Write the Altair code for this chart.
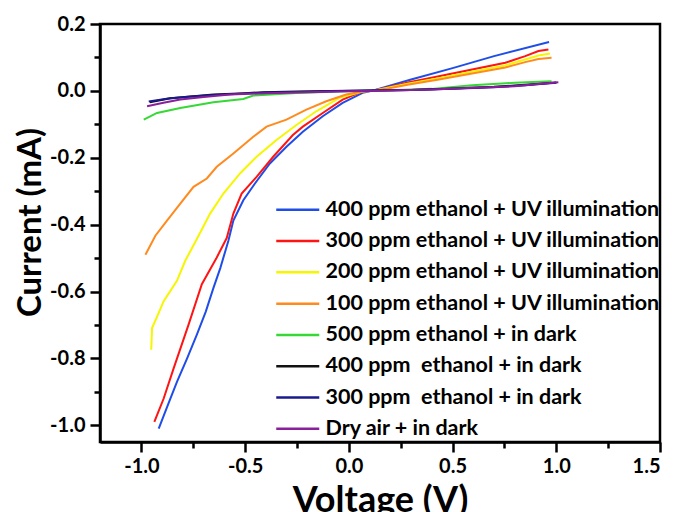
import altair as alt
import pandas as pd

NB = "\u00a0"  # keeps the extra spaces in the legend labels

series_names = [
    "400 ppm ethanol + UV illumination",
    "300 ppm ethanol + UV illumination",
    "200 ppm ethanol + UV illumination",
    "100 ppm ethanol + UV illumination",
    NB + "500 ppm ethanol + in dark",
    "400 ppm" + NB + " ethanol + in dark",
    "300 ppm" + NB + " ethanol + in dark",
    NB + "Dry air + in dark",
]
series_colors = [
    "#1f4de8", "#ff1414", "#f6f600", "#ff8a1e",
    "#35d835", "#111111", "#1a1a8f", "#8a1f9c",
]

# I-V sweeps: voltage (V) and current (mA)
v_uv400 = [-0.917, -0.873, -0.829, -0.78, -0.733, -0.69, -0.653, -0.62, -0.581, -0.557,
           -0.509, -0.453, -0.381, -0.301, -0.222, -0.126, -0.03, 0.066, 0.11, 0.3, 0.5,
           0.7, 0.965]
i_uv400 = [-1.010, -0.94, -0.870, -0.80, -0.729, -0.66, -0.589, -0.53, -0.448, -0.388,
           -0.327, -0.277, -0.217, -0.167, -0.122, -0.076, -0.036, -0.006, 0.0, 0.034,
           0.068, 0.104, 0.146]

v_uv300 = [-0.938, -0.893, -0.845, -0.773, -0.709, -0.637, -0.589, -0.557, -0.517, -0.445,
           -0.365, -0.270, -0.222, -0.126, -0.030, 0.066, 0.11, 0.194, 0.29, 0.434, 0.594,
           0.754, 0.85, 0.914, 0.962]
i_uv300 = [-0.990, -0.920, -0.830, -0.699, -0.578, -0.498, -0.44, -0.367, -0.307, -0.257,
           -0.197, -0.132, -0.107, -0.066, -0.026, -0.001, 0.0, 0.012, 0.026, 0.044, 0.064,
           0.084, 0.104, 0.119, 0.124]

v_uv200 = [-0.953, -0.949, -0.921, -0.893, -0.829, -0.789, -0.733, -0.669, -0.605, -0.525,
           -0.445, -0.349, -0.253, -0.157, -0.046, 0.066, 0.11, 0.194, 0.29, 0.434, 0.594,
           0.754, 0.85, 0.914, 0.97]
i_uv200 = [-0.774, -0.709, -0.670, -0.629, -0.568, -0.508, -0.443, -0.367, -0.307, -0.247,
           -0.197, -0.147, -0.102, -0.061, -0.021, -0.002, 0.0, 0.010, 0.022, 0.038, 0.057,
           0.076, 0.094, 0.106, 0.112]

v_uv100 = [-0.981, -0.933, -0.877, -0.813, -0.749, -0.685, -0.637, -0.557, -0.461, -0.397,
           -0.301, -0.205, -0.109, -0.013, 0.066, 0.11, 0.194, 0.29, 0.434, 0.594, 0.754,
           0.85, 0.914, 0.977]
i_uv100 = [-0.490, -0.433, -0.388, -0.337, -0.287, -0.262, -0.227, -0.187, -0.137, -0.107,
           -0.086, -0.056, -0.031, -0.011, -0.002, 0.0, 0.008, 0.019, 0.034, 0.052, 0.070,
           0.086, 0.095, 0.099]

v_dk500 = [-0.989, -0.925, -0.813, -0.653, -0.509, -0.461, -0.253, -0.013, 0.2, 0.4, 0.594,
           0.8, 0.977]
i_dk500 = [-0.086, -0.066, -0.051, -0.034, -0.024, -0.014, -0.006, -0.001, 0.002, 0.006,
           0.017, 0.024, 0.029]

v_dk400 = [-0.96, -0.861, -0.75, -0.653, -0.5, -0.413, -0.25, -0.094, 0.1, 0.3, 0.5, 0.7,
           0.85, 1.0]
i_dk400 = [-0.034, -0.022, -0.016, -0.011, -0.007, -0.004, -0.002, 0.0, 0.001, 0.003, 0.007,
           0.012, 0.018, 0.025]

v_dk300 = [-0.965, -0.87, -0.76, -0.65, -0.5, -0.4, -0.25, -0.1, 0.1, 0.3, 0.5, 0.7, 0.85,
           1.0]
i_dk300 = [-0.032, -0.023, -0.017, -0.012, -0.008, -0.005, -0.003, -0.001, 0.001, 0.003,
           0.006, 0.011, 0.017, 0.024]

v_dry = [-0.973, -0.9, -0.813, -0.7, -0.573, -0.4, -0.2, 0.0, 0.2, 0.4, 0.6, 0.8, 0.9, 1.01]
i_dry = [-0.046, -0.036, -0.026, -0.018, -0.011, -0.007, -0.004, -0.001, 0.001, 0.004,
         0.009, 0.014, 0.02, 0.026]

sweeps = [
    (v_uv400, i_uv400), (v_uv300, i_uv300), (v_uv200, i_uv200), (v_uv100, i_uv100),
    (v_dk500, i_dk500), (v_dk400, i_dk400), (v_dk300, i_dk300), (v_dry, i_dry),
]

rows = []
for name, (vs, cs) in zip(series_names, sweeps):
    for k, (v, c) in enumerate(zip(vs, cs)):
        rows.append({"series": name, "V": v, "I": c, "idx": k})
df = pd.DataFrame(rows)

x_ticks = [-1.0, -0.75, -0.5, -0.25, 0.0, 0.25, 0.5, 0.75, 1.0, 1.25, 1.5]
y_ticks = [-1.0, -0.9, -0.8, -0.7, -0.6, -0.5, -0.4, -0.3, -0.2, -0.1, 0.0, 0.1, 0.2]

FONT = "Lato"
x_minor = "round(datum.value*4) % 2 != 0"
y_minor = "round(datum.value*10) % 2 != 0"

x_axis = alt.Axis(
    values=x_ticks,
    labelExpr=f"{x_minor} ? '' : (datum.value < -0.001 ? '-' : '') + format(abs(datum.value), '.1f')",
    tickSize={"condition": {"test": x_minor, "value": 6}, "value": 10},
    labelPadding=4,
    title="Voltage (V)",
    titleFontSize=36,
    titleX=280,
    titleY=69,
    titleBaseline="alphabetic",
)
y_axis = alt.Axis(
    values=y_ticks,
    labelExpr=f"{y_minor} ? '' : (datum.value < -0.001 ? '-' : '') + format(abs(datum.value), '.1f')",
    tickSize={"condition": {"test": y_minor, "value": 6}, "value": 10},
    labelPadding=5,
    title="Current (mA)",
    titleFontSize=33,
    titleAngle=270,
    titleX=-70,
    titleY=198,
    titleAlign="center",
    titleBaseline="middle",
)

chart = (
    alt.Chart(df)
    .mark_line(strokeWidth=2, clip=True)
    .encode(
        x=alt.X("V:Q", scale=alt.Scale(domain=[-1.2, 1.5], nice=False, zero=False), axis=x_axis),
        y=alt.Y("I:Q", scale=alt.Scale(domain=[-1.05, 0.2], nice=False, zero=False), axis=y_axis),
        color=alt.Color(
            "series:N",
            scale=alt.Scale(domain=series_names, range=series_colors),
            legend=alt.Legend(
                title=None,
                orient="none",
                legendX=187,
                legendY=175,
                direction="vertical",
                symbolType="M-5,0H5",
                symbolSize=74,
                symbolStrokeWidth=2.5,
                labelFont=FONT,
                labelFontSize=21.5,
                labelFontWeight="bold",
                labelColor="black",
                labelOffset=17,
                labelLimit=500,
                rowPadding=8.3,
                padding=0,
            ),
        ),
        order=alt.Order("idx:Q"),
    )
    .properties(
        width=560,
        height=418,
        autosize=alt.AutoSizeParams(type="none"),
        padding={"left": 100, "top": 24, "right": 15, "bottom": 70},
        background="white",
    )
    .configure_view(stroke="black", strokeWidth=2.5)
    .configure_axis(
        grid=False,
        domainColor="black",
        domainWidth=2.5,
        tickColor="black",
        tickWidth=2.5,
        labelFont=FONT,
        labelFontSize=20,
        labelFontWeight="bold",
        labelColor="black",
        titleFont=FONT,
        titleFontWeight="bold",
        titleColor="black",
    )
)

chart.save("out.html", embed_options={"renderer": "svg", "actions": False})
